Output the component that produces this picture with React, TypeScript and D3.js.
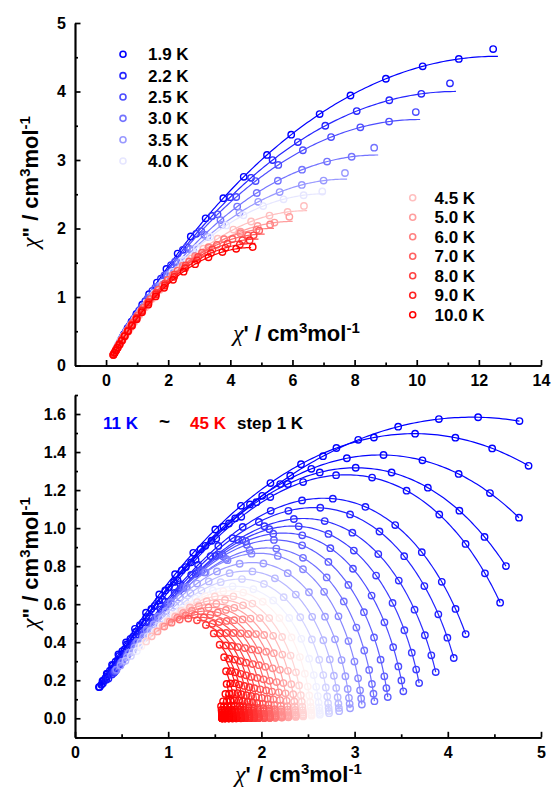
import * as d3 from "d3";
import { useRef, useEffect } from "react";

const FONT = "'Liberation Sans', Arial, sans-serif";

// ac frequencies (Hz) shared by every temperature
const freqs = [1, 1.5, 2.2, 3.3, 5, 7.4, 11, 16, 24, 36, 54, 80, 120, 180, 270, 400, 600, 900, 1350, 2000, 3000];

// top panel, 1.9 - 10 K : generalized Debye fit parameters
const topTemps = ["1.9", "2.2", "2.5", "3.0", "3.5", "4.0", "4.5", "5.0", "6.0", "7.0", "8.0", "9.0", "10.0"];
const topChiS = [0, 0, 0, 0, 0, 0, 0.03, 0.04, 0.05, 0.05, 0.05, 0.05, 0.05];
const topChiT = [25.2, 22.5, 20.2, 17.5, 15.5, 14.1, 12.9, 11.96, 10.75, 10.15, 9.75, 9.55, 9.39];
const topAlpha = [0.562, 0.565, 0.565, 0.57, 0.57, 0.565, 0.57, 0.568, 0.544, 0.538, 0.537, 0.543, 0.55];
const topBeta = [1, 1, 1, 1, 1, 1, 1, 1, 1, 1, 1, 1, 1];
const topLogTau = [-0.8, -0.8, -0.8, -0.8, -0.8, -0.8, -0.8, -0.8, -0.8, -0.8, -0.8, -0.8, -0.78];
// measured 1 Hz points (they sit off the fitted lines)
const topLowChi1 = [12.46, 11.07, 9.97, 8.63, 7.69, 6.96, 6.37, 5.9, 5.28, 4.93, 4.75, 4.62, 4.72];
const topLowChi2 = [4.62, 4.12, 3.7, 3.18, 2.81, 2.54, 2.33, 2.17, 2.06, 1.97, 1.9, 1.83, 1.73];

// bottom panel, 11 - 45 K (step 1 K)
const botTemps = [11, 12, 13, 14, 15, 16, 17, 18, 19, 20, 21, 22, 23, 24, 25, 26, 27, 28, 29, 30, 31, 32, 33, 34, 35, 36, 37, 38, 39, 40, 41, 42, 43, 44, 45];
const botChiS = [0.07, 0.07, 0.07, 0.07, 0.07, 0.07, 0.07, 0.07, 0.07, 0.07, 0.07, 0.07, 0.07, 0.07, 0.07, 0.07, 0.07, 0.07, 0.07, 0.07, 0.07, 0.07, 0.07, 0.07, 0.07, 0.07, 0.07, 0.07, 0.07, 0.07, 0.07, 0.07, 0.07, 0.07, 0.07];
const botChiT = [8.45, 6.95, 6.0, 5.3, 4.95, 4.42, 4.2, 3.96, 3.75, 3.56, 3.38, 3.23, 3.09, 2.96, 2.84, 2.73, 2.63, 2.54, 2.45, 2.37, 2.29, 2.22, 2.15, 2.09, 2.03, 1.97, 1.92, 1.87, 1.82, 1.78, 1.73, 1.69, 1.65, 1.61, 1.58];
const botAlpha = [0.54, 0.45, 0.38, 0.3, 0.24, 0.2, 0.18, 0.16, 0.14, 0.12, 0.1, 0.09, 0.08, 0.08, 0.08, 0.08, 0.08, 0.08, 0.08, 0.08, 0.08, 0.08, 0.08, 0.08, 0.08, 0.08, 0.08, 0.08, 0.08, 0.08, 0.08, 0.08, 0.08, 0.08, 0.08];
const botBeta = [1, 0.85, 0.72, 0.62, 0.55, 0.5, 0.48, 0.46, 0.45, 0.44, 0.43, 0.42, 0.42, 0.41, 0.4, 0.39, 0.38, 0.38, 0.38, 0.38, 0.38, 0.38, 0.38, 0.38, 0.38, 0.38, 0.38, 0.38, 0.38, 0.38, 0.38, 0.38, 0.38, 0.38, 0.38];
const botLogTau = [-1.0, -1.2, -1.3, -1.4, -1.49, -1.56, -1.7, -1.78, -1.87, -1.95, -2.01, -2.07, -2.14, -2.26, -2.39, -2.52, -2.65, -2.79, -2.93, -3.07, -3.21, -3.35, -3.49, -3.63, -3.77, -3.91, -4.05, -4.19, -4.33, -4.47, -4.63, -4.8, -4.97, -5.14, -5.3];

type Fit = { chiS: number; chiT: number; alpha: number; beta: number; tau: number };

const topFits: Fit[] = topTemps.map((_, i) => ({
  chiS: topChiS[i], chiT: topChiT[i], alpha: topAlpha[i], beta: topBeta[i], tau: Math.pow(10, topLogTau[i]),
}));
const botFits: Fit[] = botTemps.map((_, i) => ({
  chiS: botChiS[i], chiT: botChiT[i], alpha: botAlpha[i], beta: botBeta[i], tau: Math.pow(10, botLogTau[i]),
}));

// Havriliak-Negami / generalized Debye: returns [chi', chi'']
function model(f: number, p: Fit): [number, number] {
  const a = 1 - p.alpha;
  const u = Math.pow(2 * Math.PI * f * p.tau, a);
  const re = 1 + u * Math.cos((a * Math.PI) / 2);
  const im = u * Math.sin((a * Math.PI) / 2);
  const m = Math.pow(Math.hypot(re, im), -p.beta);
  const th = p.beta * Math.atan2(im, re);
  const d = p.chiT - p.chiS;
  return [p.chiS + d * m * Math.cos(th), d * m * Math.sin(th)];
}

// frequencies for the fitted curves
const f0 = freqs[0];
const f1 = freqs[freqs.length - 1];
const lineFreqs = d3.range(0, 241).map((i) => f0 * Math.pow(f1 / f0, i / 240));

const BLUE = "#0000ff";
const RED = "#ff0000";
const WHITE = "#ffffff";
const topFade = [0.0, 0.15, 0.3, 0.45, 0.6, 0.9, 0.75, 0.62, 0.5, 0.38, 0.26, 0.13, 0.0];
const topColor = (i: number) =>
  i < 6 ? d3.interpolateRgb(BLUE, WHITE)(topFade[i]) : d3.interpolateRgb(RED, WHITE)(topFade[i]);
const botColor = (t: number) =>
  t <= 27.5
    ? d3.interpolateRgb(BLUE, WHITE)(Math.pow((t - 11) / 16.5, 2))
    : d3.interpolateRgb(RED, WHITE)(Math.pow((45 - t) / 17.5, 2));

function Axis({ scale, orient, ticks, minor, fmt, transform }: any) {
  const ref = useRef<SVGGElement>(null);
  useEffect(() => {
    const g = d3.select(ref.current);
    g.selectAll("*").remove();
    const make: any = orient === "bottom" ? d3.axisBottom : d3.axisLeft;
    g.append("g").call(make(scale).tickValues(minor).tickSize(-3).tickSizeOuter(0).tickFormat(() => ""));
    g.append("g").call(make(scale).tickValues(ticks).tickSize(-5.5).tickSizeOuter(0).tickPadding(9).tickFormat(fmt));
    g.selectAll("path.domain, line").attr("stroke", "#000").attr("stroke-width", 1.7);
    g.selectAll("text")
      .attr("font-family", FONT)
      .attr("font-weight", "bold")
      .attr("font-size", 16)
      .attr("fill", "#000");
  }, [scale, orient]);
  return <g ref={ref} transform={transform} />;
}

// lowPts: optional measured lowest-frequency point per curve
function Curves({ fits, color, x, y, lowPts }: any) {
  const line = d3.line<[number, number]>().x((d) => x(d[0])).y((d) => y(d[1]));
  return (
    <g fill="none">
      {fits.map((p: Fit, i: number) => (
        <g key={i} stroke={color(i)}>
          <path d={line(lineFreqs.map((f) => model(f, p))) || ""} strokeWidth={1.2} />
          {freqs.map((f, j) => {
            const [cx, cy] = j === 0 && lowPts ? lowPts[i] : model(f, p);
            return <circle key={j} cx={x(cx)} cy={y(cy)} r={3.2} strokeWidth={1.4} />;
          })}
        </g>
      ))}
    </g>
  );
}

function AxisTitle({ x, y, rotate, dbl }: any) {
  return (
    <text
      transform={`translate(${x},${y})${rotate ? " rotate(-90)" : ""}`}
      textAnchor={rotate ? "middle" : "start"}
      fontFamily={FONT}
      fontWeight="bold"
      fontSize={22}
      fill="#000"
    >
      <tspan fontFamily="'Liberation Serif', serif" fontStyle="italic" fontWeight="normal" fontSize={24}>
        χ
      </tspan>
      <tspan>{dbl ? "\" / cm" : "' / cm"}</tspan>
      <tspan dy={-8} fontSize={15}>3</tspan>
      <tspan dy={8}>mol</tspan>
      <tspan dy={-8} fontSize={15}>-1</tspan>
    </text>
  );
}

export default function App() {
  const xTop = d3.scaleLinear([-1, 14], [75, 541]);
  const yTop = d3.scaleLinear([0, 5], [365.5, 23]);
  const xBot = d3.scaleLinear([0, 5], [75, 541]);
  const yBot = d3.scaleLinear([-0.1, 1.7], [737.3, 395]);

  const topLow = topLowChi1.map((c, i) => [c, topLowChi2[i]]);
  const legendStyle = { fontFamily: FONT, fontWeight: "bold", fontSize: 17, fill: "#000" } as any;

  return (
    <svg width={551} height={789} style={{ position: "absolute", left: 0, top: 0, background: "#fff" }}>
      {/* top panel */}
      <Curves fits={topFits} color={topColor} x={xTop} y={yTop} lowPts={topLow} />
      <Axis scale={xTop} orient="bottom" ticks={d3.range(0, 15, 2)} minor={d3.range(1, 14, 2)} fmt={d3.format("d")} transform="translate(0,365.5)" />
      <Axis scale={yTop} orient="left" ticks={d3.range(0, 6)} minor={d3.range(0.5, 5, 1)} fmt={d3.format("d")} transform="translate(75,0)" />
      <AxisTitle x={38} y={182} rotate dbl />
      <AxisTitle x={233} y={341} />
      {topTemps.slice(0, 6).map((t, i) => (
        <g key={t} transform={`translate(0,${54.3 + i * 21.35})`}>
          <circle cx={123} cy={0} r={3} fill="none" stroke={topColor(i)} strokeWidth={1.6} />
          <text x={148} y={6} {...legendStyle}>{t} K</text>
        </g>
      ))}
      {topTemps.slice(6).map((t, i) => (
        <g key={t} transform={`translate(0,${197.7 + i * 19.5})`}>
          <circle cx={412.7} cy={0} r={3} fill="none" stroke={topColor(i + 6)} strokeWidth={1.6} />
          <text x={434.5} y={6} {...legendStyle}>{t} K</text>
        </g>
      ))}

      {/* bottom panel */}
      <Curves fits={botFits} color={(i: number) => botColor(botTemps[i])} x={xBot} y={yBot} />
      <Axis scale={xBot} orient="bottom" ticks={d3.range(0, 6)} minor={d3.range(0.5, 5, 1)} fmt={d3.format("d")} transform="translate(0,737.3)" />
      <Axis scale={yBot} orient="left" ticks={d3.range(0, 9).map((k) => k * 0.2)} minor={d3.range(0, 10).map((k) => -0.1 + k * 0.2)} fmt={d3.format(".1f")} transform="translate(75,0)" />
      <AxisTitle x={38} y={563} rotate dbl />
      <AxisTitle x={235} y={782} />
      <g fontFamily={FONT} fontWeight="bold" fontSize={17}>
        <text x={103} y={429} fill={BLUE}>11 K</text>
        <text x={159} y={428} fill="#000" fontSize={19}>~</text>
        <text x={190} y={429} fill={RED}>45 K</text>
        <text x={237} y={429} fill="#000">step 1 K</text>
      </g>
    </svg>
  );
}
